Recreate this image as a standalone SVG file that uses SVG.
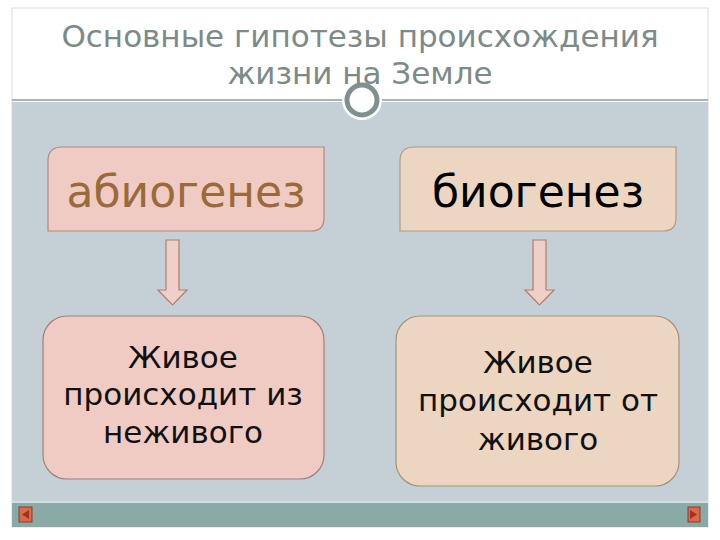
<svg xmlns="http://www.w3.org/2000/svg" width="720" height="540" viewBox="0 0 720 540">
<style>
text{font-family:"DejaVu Sans","Noto Sans",sans-serif}
.t{fill:#7c8a88;font-size:31px}
.big{font-size:44px}
.mid{font-size:31px;fill:#111}
.arr{fill:#efcfc6;stroke:#b07c70;stroke-width:1.2}
</style>
<rect width="720" height="540" fill="#fff"/>
<rect x="12" y="8" width="696" height="519" fill="#fff" stroke="#d8dedd"/>
<rect x="12" y="102" width="696" height="400" fill="#c4d0d5"/>
<line x1="12" y1="100" x2="708" y2="100" stroke="#8a9b98" stroke-width="1.5"/>
<rect x="12" y="502" width="696" height="25" fill="#8aaaa8"/>
<rect x="12" y="501" width="696" height="2" fill="#d5dfe0"/>
<circle cx="362" cy="100" r="20" fill="#fff"/>
<circle cx="362" cy="100" r="15" fill="#fff" stroke="#80908e" stroke-width="5"/>
<rect x="19" y="507" width="13" height="15" fill="#d96a4a" stroke="#8a3a2a"/>
<path d="M22 514.5 L29 510 L29 519 Z" fill="#a83020"/>
<rect x="688" y="507" width="12" height="15" fill="#d96a4a" stroke="#8a3a2a"/>
<path d="M697 514.5 L690 510 L690 519 Z" fill="#a83020"/>
<text class="t" x="360" y="47" text-anchor="middle">Основные гипотезы происхождения</text>
<text class="t" x="360" y="84" text-anchor="middle">жизни на Земле</text>
<g id="abio">
<path d="M62 147 H324 V218 Q324 231 311 231 H48 V161 Q48 147 62 147 Z" fill="#efcbc4" stroke="#b08880" stroke-width="1.2"/>
<text class="big" x="186" y="207" text-anchor="middle" fill="#9a6a3a">абиогенез</text>
</g>
<g id="bio">
<path d="M414 147 H676 V218 Q676 231 663 231 H400 V161 Q400 147 414 147 Z" fill="#ecd6c2" stroke="#b09a84" stroke-width="1.2"/>
<text class="big" x="538" y="207" text-anchor="middle" fill="#000">биогенез</text>
</g>
<g id="connectors">
<path class="arr" d="M166 240 H179 V290 H187 L172.5 305 L158 290 H166 Z"/>
<path class="arr" d="M533 240 H546 V290 H554 L539.5 305 L525 290 H533 Z"/>
</g>
<g id="abio-def">
<rect x="43" y="316" width="281" height="163" rx="24" fill="#efcbc4" stroke="#a0807a" stroke-width="1.2"/>
<text class="mid" x="183" y="368" text-anchor="middle">Живое</text>
<text class="mid" x="183" y="405" text-anchor="middle">происходит из</text>
<text class="mid" x="183" y="443" text-anchor="middle">неживого</text>
</g>
<g id="bio-def">
<rect x="396" y="316" width="283" height="170" rx="24" fill="#ecd6c2" stroke="#a0947a" stroke-width="1.2"/>
<text class="mid" x="538" y="373" text-anchor="middle">Живое</text>
<text class="mid" x="538" y="411" text-anchor="middle">происходит от</text>
<text class="mid" x="538" y="450" text-anchor="middle">живого</text>
</g>
</svg>
